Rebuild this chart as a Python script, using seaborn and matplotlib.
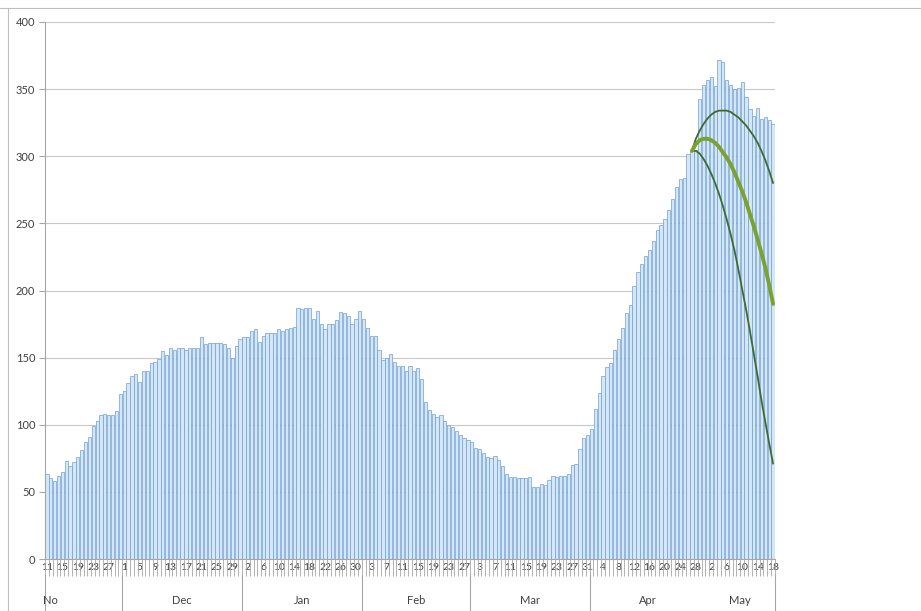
import pandas as pd
import numpy as np
import matplotlib
matplotlib.use('Agg')
import matplotlib.pyplot as plt
import matplotlib.transforms as mtransforms
from matplotlib.lines import Line2D
import seaborn as sns

# gia tri doc tu bieu do, moi ngay tu 11/11 den 18/5
nov = [63, 60, 58, 62, 65, 73, 69, 72, 76, 81, 87, 91, 99, 103, 107, 108, 107, 107, 110, 123]
dec = [125, 131, 136, 138, 132, 140, 140, 146, 147, 149, 155, 152, 157, 156, 157, 157,
       156, 157, 157, 157, 165, 160, 161, 161, 161, 161, 160, 157, 150, 159, 164]
jan = [165, 165, 170, 171, 162, 166, 168, 168, 168, 171, 170, 171, 172, 173, 187, 186,
       187, 187, 179, 185, 175, 171, 175, 175, 178, 184, 183, 181, 175, 179, 185]
feb = [179, 172, 166, 166, 156, 148, 150, 153, 147, 144, 144, 140, 144, 140, 142, 134,
       117, 111, 108, 106, 107, 103, 100, 98, 95, 92, 90, 89]
mar = [87, 83, 82, 79, 76, 75, 77, 74, 69, 63, 61, 61, 60, 60, 60, 61, 54, 54, 56, 55,
       59, 62, 61, 62, 62, 63, 70, 71, 82, 90, 92]
apr = [97, 112, 124, 136, 143, 146, 156, 164, 172, 183, 189, 203, 214, 220, 226, 230,
       237, 245, 249, 253, 260, 268, 277, 283, 284, 302, 304, 305, 343, 353]
may = [357, 359, 352, 372, 370, 357, 353, 350, 351, 355, 344, 335, 330, 336, 328, 329, 327, 324]

values = nov + dec + jan + feb + mar + apr + may
dates = pd.date_range('2020-11-11', '2021-05-18', freq='D')
month_names = ['No', 'Dec', 'Jan', 'Feb', 'Mar', 'Apr', 'May']

# 3 duong du bao bat dau tu 27/4
proj_start = '2021-04-27'
proj_high = [304, 313, 319, 324, 328, 331, 333, 334, 334, 334, 333, 331, 329, 326, 323,
             319, 315, 310, 304, 297, 289, 280]
proj_mid = [304, 309, 312, 313, 313, 312, 310, 307, 303, 299, 294, 288, 281, 274, 266,
            257, 248, 238, 228, 217, 204, 190]
proj_low = [304, 304, 302, 298, 293, 287, 280, 272, 263, 253, 242, 230, 216, 201, 186,
            170, 153, 136, 118, 102, 86, 71]

df = pd.DataFrame({'day': range(len(values)), 'value': values})

sns.set_style('white')
plt.rcParams['font.family'] = ['Lato', 'DejaVu Sans']

fig = plt.figure(figsize=(9.21, 6.11), dpi=100)
ax = fig.add_axes([45 / 921, 52 / 611, 730 / 921, 537 / 611])

sns.barplot(data=df, x='day', y='value', color='#d5e7f5', saturation=1, width=0.84,
            edgecolor='#6f9fd6', linewidth=0.5, ax=ax)

start = dates.get_loc(pd.Timestamp(proj_start))
proj_x = list(range(start, start + len(proj_high)))
sns.lineplot(x=proj_x, y=proj_high, color='#3f6b2f', lw=1.3, ax=ax)
sns.lineplot(x=proj_x, y=proj_low, color='#3f6b2f', lw=1.3, ax=ax)
sns.lineplot(x=proj_x, y=proj_mid, color='#7aa22e', lw=2.8, ax=ax)

ax.set_xlim(-0.5, len(values) - 0.5)
ax.set_ylim(0, 400)
ax.set_xlabel('')
ax.set_ylabel('')

# nhan ngay moi 4 ngay, vach chia moi ngay
label_pos = list(range(0, len(values), 4))
ax.set_xticks(label_pos)
ax.set_xticklabels([str(dates[i].day) for i in label_pos], fontsize=7.5, color='#404040')
ax.tick_params(axis='x', which='major', bottom=True, length=0, pad=3)
ax.set_xticks(np.arange(-0.5, len(values)), minor=True)
ax.tick_params(axis='x', which='minor', bottom=True, length=12, width=0.6, color='#a6a6a6')

ax.set_yticks(range(0, 401, 50))
ax.tick_params(axis='y', left=True, length=4, width=0.8, color='#a6a6a6', labelsize=8,
               labelcolor='#404040', pad=3)
ax.yaxis.grid(True, color='#c8c8c8', lw=0.8)
ax.set_axisbelow(True)

for s in ['top', 'right']:
    ax.spines[s].set_visible(False)
for s in ['left', 'bottom']:
    ax.spines[s].set_color('#a6a6a6')
    ax.spines[s].set_linewidth(0.8)

# hang ten thang
trans = mtransforms.blended_transform_factory(ax.transData, ax.transAxes)
starts = [0] + [i for i, d in enumerate(dates) if d.day == 1]
ends = starts[1:] + [len(values)]
for k, name in enumerate(month_names):
    cx = 1 if k == 0 else (starts[k] + ends[k] - 1) / 2
    ax.text(cx, -0.0764, name, transform=trans, ha='center', va='center',
            fontsize=8, color='#404040')
for k, b in enumerate(starts + [len(values)]):
    if k < len(month_names) and month_names[k] == 'May':
        continue
    ax.add_line(Line2D([b - 0.5, b - 0.5], [-0.03, -0.11], transform=trans,
                       color='#a6a6a6', lw=0.8, clip_on=False))

# khung ngoai
fig.add_artist(Line2D([0, 1], [1 - 8 / 611] * 2, color='#bfbfbf', lw=0.8))
fig.add_artist(Line2D([8 / 921] * 2, [0, 1 - 8 / 611], color='#bfbfbf', lw=0.8))

fig.savefig('out.png', dpi=100)
